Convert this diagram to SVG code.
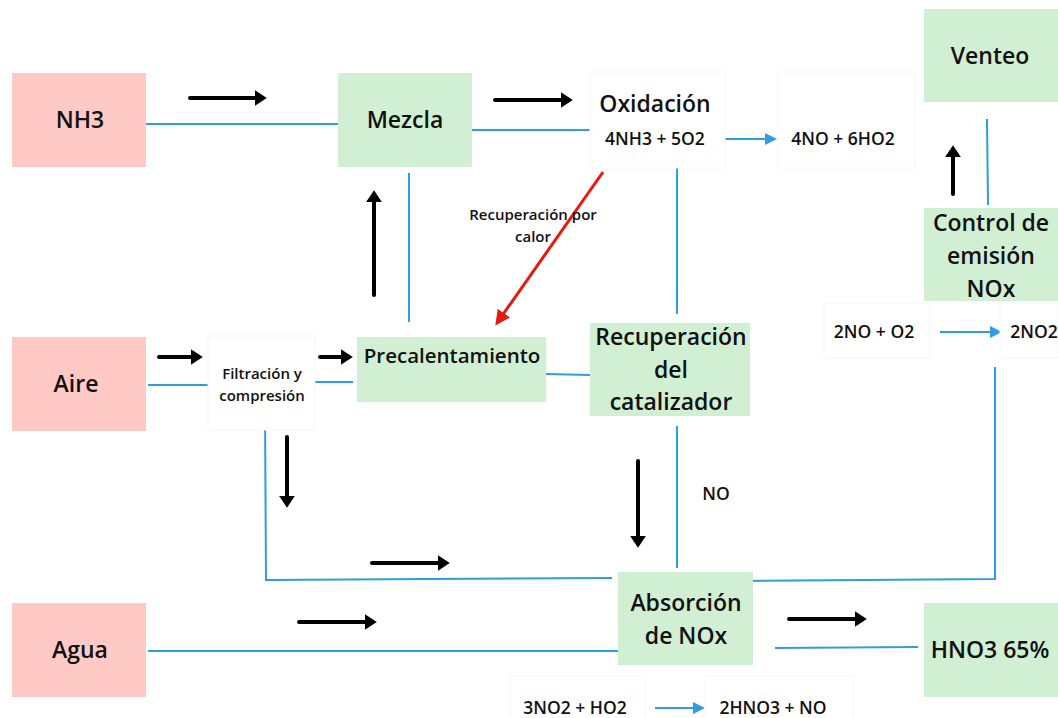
<svg xmlns="http://www.w3.org/2000/svg" width="1058" height="718" viewBox="0 0 1058 718">
<style>
.pink{fill:#ffcac5}
.green{fill:#d1efd3}
.wbox{fill:#fff;stroke:#f6f6f6;stroke-width:1}
.t{font-family:"Open Sans","Noto Sans",sans-serif;font-weight:600;fill:#111;text-anchor:middle}
.big{font-size:23px}
.med{font-size:17.5px}
.sm{font-size:15px}
.blue{stroke:#2f9de2;stroke-width:2;fill:none}
.blk{stroke:#000;stroke-width:4;fill:none;stroke-linecap:round}
.red{stroke:#e8180e;stroke-width:3;fill:none}
</style>
<defs>
<marker id="ah" markerWidth="4.5" markerHeight="4.5" refX="1.8" refY="2.2" orient="auto" markerUnits="strokeWidth"><path d="M0,0.2 L3,2.2 L0,4.2 Z" fill="#000"/></marker>
<marker id="bh" markerWidth="6" markerHeight="6" refX="5" refY="3" orient="auto" markerUnits="strokeWidth"><path d="M0,0 L6,3 L0,6 Z" fill="#2f9de2"/></marker>
<marker id="rh" markerWidth="5" markerHeight="5" refX="4" refY="2.5" orient="auto" markerUnits="strokeWidth"><path d="M0,0 L5,2.5 L0,5 Z" fill="#e8180e"/></marker>
</defs>
<rect width="1058" height="718" fill="#fff"/>

<g id="connectors">
<line class="blue" x1="146" y1="124" x2="338" y2="124"/>
<line class="blue" x1="472" y1="130" x2="592" y2="130"/>
<line class="blue" x1="409" y1="173" x2="409" y2="322"/>
<line class="blue" x1="677" y1="166" x2="677" y2="314"/>
<line class="blue" x1="987" y1="119" x2="988" y2="205"/>
<line class="blue" x1="148" y1="385" x2="218" y2="385"/>
<line class="blue" x1="306" y1="382" x2="353" y2="382"/>
<line class="blue" x1="546" y1="374" x2="590" y2="375"/>
<line class="blue" x1="677" y1="426" x2="677" y2="568"/>
<polyline class="blue" points="265,413 266,580 612,578"/>
<polyline class="blue" points="995,367 995,579 743,581"/>
<line class="blue" x1="148" y1="651" x2="618" y2="651"/>
<line class="blue" x1="775" y1="648" x2="918" y2="647"/>
<line class="blue" x1="715" y1="139" x2="775" y2="139" marker-end="url(#bh)"/>
<line class="blue" x1="940" y1="332" x2="1000" y2="332" marker-end="url(#bh)"/>
<line class="blue" x1="655" y1="708" x2="703" y2="708" marker-end="url(#bh)"/>
<line class="blk" x1="190" y1="98" x2="262" y2="98" marker-end="url(#ah)"/>
<line class="blk" x1="495" y1="100" x2="568" y2="100" marker-end="url(#ah)"/>
<line class="blk" x1="374" y1="295" x2="374" y2="195" marker-end="url(#ah)"/>
<line class="blk" x1="953" y1="194" x2="953" y2="150" marker-end="url(#ah)"/>
<line class="blk" x1="159" y1="357" x2="198" y2="357" marker-end="url(#ah)"/>
<line class="blk" x1="320" y1="357" x2="348" y2="357" marker-end="url(#ah)"/>
<line class="blk" x1="287" y1="437" x2="287" y2="503" marker-end="url(#ah)"/>
<line class="blk" x1="638" y1="461" x2="638" y2="543" marker-end="url(#ah)"/>
<line class="blk" x1="372" y1="563" x2="445" y2="563" marker-end="url(#ah)"/>
<line class="blk" x1="299" y1="622" x2="372" y2="622" marker-end="url(#ah)"/>
<line class="blk" x1="789" y1="619" x2="862" y2="619" marker-end="url(#ah)"/>
<line class="red" x1="603" y1="172" x2="497" y2="323" marker-end="url(#rh)"/>
</g>

<g id="nh3"><rect class="pink" x="12" y="73" width="134" height="94"/><text class="t big" x="80" y="128">NH3</text></g>
<g id="mezcla"><rect class="green" x="338" y="73" width="134" height="94"/><text class="t big" x="405" y="128">Mezcla</text></g>
<g id="oxidacion"><rect class="wbox" x="590" y="72" width="135" height="96"/><text class="t big" x="655" y="112">Oxidación</text><text class="t med" x="655" y="145">4NH3 + 5O2</text></g>
<g id="productos-ox"><rect class="wbox" x="778" y="72" width="137" height="96"/><text class="t med" x="843" y="145">4NO + 6HO2</text></g>
<g id="venteo"><rect class="green" x="924" y="9" width="134" height="93"/><text class="t big" x="990" y="64">Venteo</text></g>
<g id="control"><rect class="green" x="924" y="208" width="134" height="93"/><text class="t big" x="991" y="231">Control de</text><text class="t big" x="991" y="264">emisión</text><text class="t big" x="991" y="297">NOx</text></g>
<g id="reac-2no"><rect class="wbox" x="824" y="303" width="106" height="55"/><text class="t med" x="874" y="338">2NO + O2</text></g>
<g id="no2"><rect class="wbox" x="1000" y="303" width="58" height="55"/><text class="t med" x="1034" y="338">2NO2</text></g>
<g id="recup-calor"><text class="t sm" x="533" y="220">Recuperación por</text><text class="t sm" x="533" y="242">calor</text></g>
<g id="aire"><rect class="pink" x="12" y="337" width="134" height="94"/><text class="t big" x="76" y="392">Aire</text></g>
<g id="filtracion"><rect class="wbox" x="208" y="336" width="107" height="94"/><text class="t sm" x="262" y="379">Filtración y</text><text class="t sm" x="262" y="401">compresión</text></g>
<g id="precalentamiento"><rect class="green" x="357" y="337" width="189" height="65"/><text class="t" style="font-size:20.5px" x="452" y="363">Precalentamiento</text></g>
<g id="recuperacion"><rect class="green" x="590" y="323" width="160" height="93"/><text class="t big" x="671" y="345">Recuperación</text><text class="t big" x="671" y="378">del</text><text class="t big" x="671" y="410">catalizador</text></g>
<g id="no-label"><text class="t med" x="716" y="500">NO</text></g>
<g id="absorcion"><rect class="green" x="618" y="572" width="135" height="93"/><text class="t big" x="686" y="611">Absorción</text><text class="t big" x="686" y="644">de NOx</text></g>
<g id="agua"><rect class="pink" x="12" y="603" width="134" height="94"/><text class="t big" x="80" y="658">Agua</text></g>
<g id="hno3"><rect class="green" x="924" y="603" width="134" height="94"/><text class="t big" x="990" y="658">HNO3 65%</text></g>
<g id="reac-3no2"><rect class="wbox" x="510" y="676" width="135" height="50"/><text class="t med" x="575" y="714">3NO2 + HO2</text></g>
<g id="prod-hno3"><rect class="wbox" x="705" y="676" width="148" height="50"/><text class="t med" x="773" y="714">2HNO3 + NO</text></g>
</svg>
